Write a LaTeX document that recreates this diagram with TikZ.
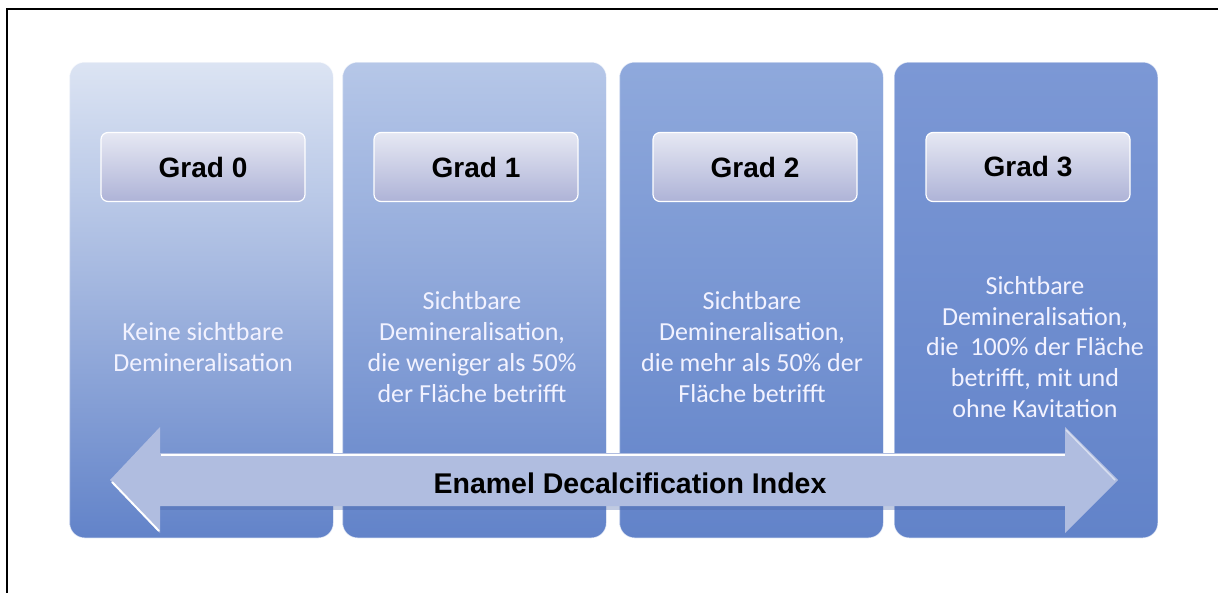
\documentclass[tikz,border=0pt]{standalone}
\usepackage{fontspec}
\setmainfont{Carlito}
\newfontfamily\arialfont{Liberation Sans}
\usepackage{tikz}
\usetikzlibrary{positioning}

\definecolor{pzerotop}{HTML}{DCE4F3}
\definecolor{ponetop}{HTML}{B6C7E8}
\definecolor{ptwotop}{HTML}{8FA9DC}
\definecolor{pthreetop}{HTML}{7C98D5}
\definecolor{pbottom}{HTML}{6283C9}
\definecolor{gradtop}{HTML}{E6E8F3}
\definecolor{gradbottom}{HTML}{AEB3D7}
\definecolor{arrowfill}{HTML}{B0BDE0}
\definecolor{arrowshadow}{HTML}{4A66A8}

\begin{document}
\begin{tikzpicture}[x=1pt, y=-1pt,
      panel/.style={rounded corners=15pt, minimum width=264pt, minimum height=476pt,
        draw=white, draw opacity=0.7, line width=1pt, bottom color=pbottom},
      gradbox/.style={rounded corners=7pt, minimum width=204pt, minimum height=69pt,
        top color=gradtop, bottom color=gradbottom, draw=white, line width=1.2pt,
        font={\arialfont\bfseries\fontsize{28}{32}\selectfont}},
      desc/.style={align=center, text=white!95!blue,
        font={\fontsize{26}{30.8}\selectfont}},
      idxtext/.style={font={\arialfont\bfseries\fontsize{28.5}{32}\selectfont}}]
      \useasboundingbox (0,0) rectangle (1218,592);
      % outer frame
      \draw[line width=2.5pt] (7,600) -- (7,9) -- (1230,9);
      % the four grades
      \node[panel, top color=pzerotop] (p0) at (201.5,300) {};
      \node[panel, top color=ponetop] (p1) at (474.5,300) {};
      \node[panel, top color=ptwotop] (p2) at (751.5,300) {};
      \node[panel, top color=pthreetop] (p3) at (1026,300) {};
      \node[gradbox] (g0) at (203,167) {Grad 0};
      \node[gradbox] (g1) at (476,167) {Grad 1};
      \node[gradbox] (g2) at (755,167) {Grad 2};
      \node[gradbox] (g3) at (1028,167) {Grad 3};
      \node[desc] (d0) at (203,347) {Keine sichtbare\\Demineralisation};
      \node[desc] (d1) at (472,347) {Sichtbare\\Demineralisation,\\die weniger als 50\%\\der Fläche betrifft};
      \node[desc] (d2) at (752,347) {Sichtbare\\Demineralisation,\\die mehr als 50\% der\\Fläche betrifft};
      \node[desc] (d3) at (1035,347) {Sichtbare\\Demineralisation,\\die \ 100\% der Fläche\\betrifft, mit und\\ohne Kavitation};
      % index arrow
      \fill[arrowshadow, opacity=0.35] (160,506) -- (1065,506) -- (1065,510) -- (160,510) -- cycle;
      \fill[arrowfill] (110,480) -- (160,427) -- (160,453) -- (1065,453) -- (1065,427)
        -- (1118,480) -- (1065,533) -- (1065,506) -- (160,506) -- (160,533) -- cycle;
      \draw[white, line width=2.5pt] (161,455) -- (1065,455);
      \draw[white, line width=2pt] (112,482) -- (159,531);
      \draw[white, opacity=0.5, line width=1.5pt] (1066,430) -- (1115,480);
      \node[idxtext] (idx) at (630,483) {Enamel Decalcification Index};
    \end{tikzpicture}
\end{document}
